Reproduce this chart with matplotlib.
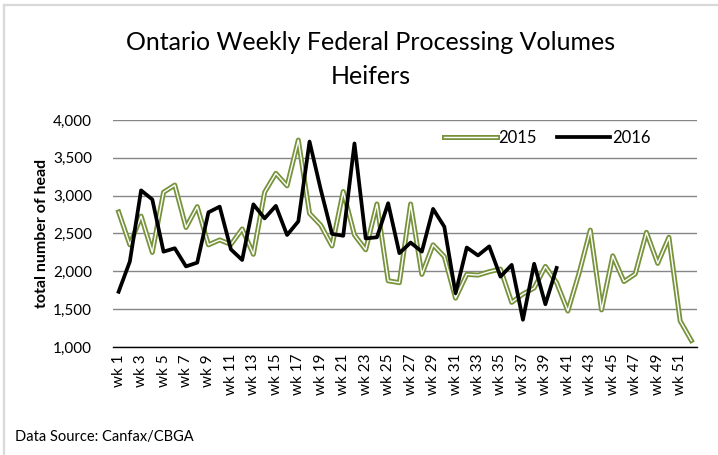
import matplotlib
matplotlib.use("Agg")
import matplotlib.pyplot as plt
import matplotlib.patheffects as pe
from matplotlib.lines import Line2D

plt.rcParams['font.family'] = ['Lato', 'DejaVu Sans']

weeks = list(range(1, 53))
tick_weeks = list(range(1, 53, 2))
tick_labels = [f"wk {w}" for w in tick_weeks]

vol_2015 = [2785, 2350, 2730, 2250, 3045, 3140, 2580, 2855, 2350, 2415,
            2355, 2560, 2225, 3045, 3295, 3130, 3735, 2765, 2610, 2335,
            3055, 2480, 2285, 2890, 1875, 1850, 2890, 1960, 2350, 2195,
            1645, 1960, 1950, 1995, 2030, 1590, 1700, 1780, 2065, 1850,
            1475, 1975, 2545, 1490, 2205, 1865, 1965, 2515, 2105, 2450,
            1345, 1085]
vol_2016 = [1730, 2130, 3070, 2950, 2260, 2305, 2065, 2115, 2780, 2855,
            2290, 2150, 2885, 2700, 2865, 2480, 2660, 3715, 3080, 2495,
            2470, 3690, 2435, 2450, 2900, 2240, 2380, 2260, 2825, 2590,
            1710, 2315, 2210, 2330, 1930, 2085, 1360, 2100, 1565, 2045]

green = '#77933C'
W, H = 718, 455
fig = plt.figure(figsize=(W / 100, H / 100), dpi=100)

# chart area border (top and left only visible)
fig.add_artist(Line2D([4 / W, 4 / W], [0, 1 - 5 / H], transform=fig.transFigure,
                      color='#D9D9D9', lw=1.6))
fig.add_artist(Line2D([4 / W, 1], [1 - 5 / H, 1 - 5 / H], transform=fig.transFigure,
                      color='#D9D9D9', lw=1.6))

ax = fig.add_axes([113 / W, 1 - 347 / H, (697 - 113) / W, (347 - 120) / H])

ax.plot(weeks, vol_2015, color='white', lw=1.0, solid_joinstyle='round', label='2015',
        path_effects=[pe.Stroke(linewidth=3.6, foreground=green, joinstyle='round'),
                      pe.Normal()], zorder=3)
ax.plot(weeks[:len(vol_2016)], vol_2016, color='black', lw=2.7, label='2016',
        solid_joinstyle='round', zorder=4)

ax.set_xlim(0.5, 52.5)
ax.set_ylim(1000, 4000)
ax.set_yticks(range(1000, 4001, 500))
ax.set_yticklabels([f"{v:,}" for v in range(1000, 4001, 500)], fontsize=11)
ax.set_xticks(tick_weeks)
ax.set_xticklabels(tick_labels, rotation=90, fontsize=11)
ax.tick_params(axis='y', length=0, pad=15)
ax.tick_params(axis='x', length=0, pad=5)
ax.grid(axis='y', color='#868686', lw=1.0)
ax.set_axisbelow(True)
for s in ['top', 'right', 'left']:
    ax.spines[s].set_visible(False)
ax.spines['bottom'].set_color('black')
ax.spines['bottom'].set_linewidth(1.0)

ax.set_ylabel('total number of head', fontsize=11.5, fontweight='bold', labelpad=3)

fig.text(371 / W, 1 - 42 / H, 'Ontario Weekly Federal Processing Volumes',
         ha='center', va='center', fontsize=18)
fig.text(371 / W, 1 - 76 / H, 'Heifers', ha='center', va='center', fontsize=18)

ax.legend(loc='center', bbox_to_anchor=(547 / W, 1 - 138 / H),
          bbox_transform=fig.transFigure, ncol=2, frameon=False, fontsize=12,
          handlelength=3.2, handletextpad=0.1, columnspacing=1.2)

fig.text(15 / W, 1 - 437 / H, 'Data Source: Canfax/CBGA', ha='left', va='center',
         fontsize=10.5)

fig.savefig('out.png', dpi=100)
